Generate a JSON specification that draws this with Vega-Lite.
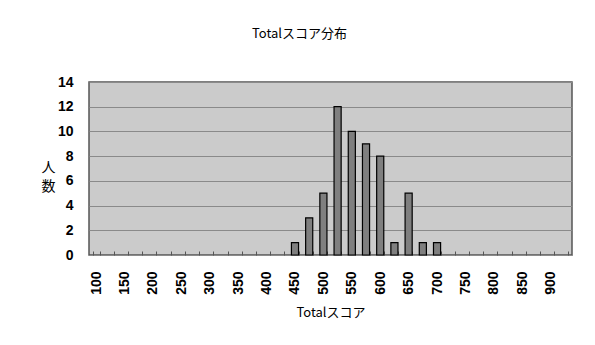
{
  "$schema": "https://vega.github.io/schema/vega-lite/v6.json",
  "width": 483,
  "height": 173,
  "autosize": {"type": "none"},
  "padding": {"left": 89, "top": 82, "right": 23, "bottom": 90},
  "background": "white",
  "title": {
    "text": "Totalスコア分布",
    "font": "Noto Sans CJK JP",
    "fontSize": 13,
    "fontWeight": "normal",
    "color": "black",
    "anchor": "middle",
    "frame": "group",
    "offset": 34,
    "dx": -31
  },
  "data": {
    "values": [
      {"score": 100, "count": 0}, {"score": 125, "count": 0}, {"score": 150, "count": 0}, {"score": 175, "count": 0},
      {"score": 200, "count": 0}, {"score": 225, "count": 0}, {"score": 250, "count": 0}, {"score": 275, "count": 0},
      {"score": 300, "count": 0}, {"score": 325, "count": 0}, {"score": 350, "count": 0}, {"score": 375, "count": 0},
      {"score": 400, "count": 0}, {"score": 425, "count": 0}, {"score": 450, "count": 1}, {"score": 475, "count": 3},
      {"score": 500, "count": 5}, {"score": 525, "count": 12}, {"score": 550, "count": 10}, {"score": 575, "count": 9},
      {"score": 600, "count": 8}, {"score": 625, "count": 1}, {"score": 650, "count": 5}, {"score": 675, "count": 1},
      {"score": 700, "count": 1}, {"score": 725, "count": 0}, {"score": 750, "count": 0}, {"score": 775, "count": 0},
      {"score": 800, "count": 0}, {"score": 825, "count": 0}, {"score": 850, "count": 0}, {"score": 875, "count": 0},
      {"score": 900, "count": 0}, {"score": 925, "count": 0}
    ]
  },
  "mark": {"type": "bar", "fill": "#7f7f7f", "stroke": "black", "strokeWidth": 1.2},
  "encoding": {
    "x": {
      "field": "score",
      "type": "ordinal",
      "sort": null,
      "scale": {"paddingInner": 0.5, "paddingOuter": 0.25},
      "axis": {
        "title": "Totalスコア",
        "titleFont": "Noto Sans CJK JP",
        "titleFontSize": 13,
        "titleFontWeight": "normal",
        "titleColor": "black",
        "titlePadding": 12,
        "labelAngle": -90,
        "labelAlign": "right",
        "labelBaseline": "middle",
        "labelFont": "Liberation Sans",
        "labelFontSize": 14,
        "labelFontWeight": "bold",
        "labelColor": "black",
        "labelPadding": 20,
        "labelExpr": "datum.value % 50 == 0 ? datum.label : ''",
        "labelOverlap": false,
        "tickBand": "extent",
        "tickSize": -4,
        "tickColor": "#555",
        "domain": false,
        "grid": false
      }
    },
    "y": {
      "field": "count",
      "type": "quantitative",
      "scale": {"domain": [0, 14], "nice": false},
      "axis": {
        "title": ["人", "数"],
        "titleAngle": 0,
        "titleFont": "Noto Sans CJK JP",
        "titleFontSize": 14,
        "titleFontWeight": "normal",
        "titleColor": "black",
        "titleAlign": "center",
        "titleBaseline": "middle",
        "titleX": -41,
        "titleY": 85,
        "titleLineHeight": 19,
        "values": [0, 2, 4, 6, 8, 10, 12, 14],
        "labelFont": "Liberation Sans",
        "labelFontSize": 14,
        "labelFontWeight": "bold",
        "labelColor": "black",
        "labelPadding": 16,
        "ticks": false,
        "domain": false,
        "grid": true,
        "gridColor": "#8a8a8a",
        "gridWidth": 1.2
      }
    },
    "strokeOpacity": {"condition": {"test": "datum.count == 0", "value": 0}, "value": 1}
  },
  "config": {
    "view": {"fill": "#cbcbcb", "stroke": "#555", "strokeWidth": 1.5}
  }
}
